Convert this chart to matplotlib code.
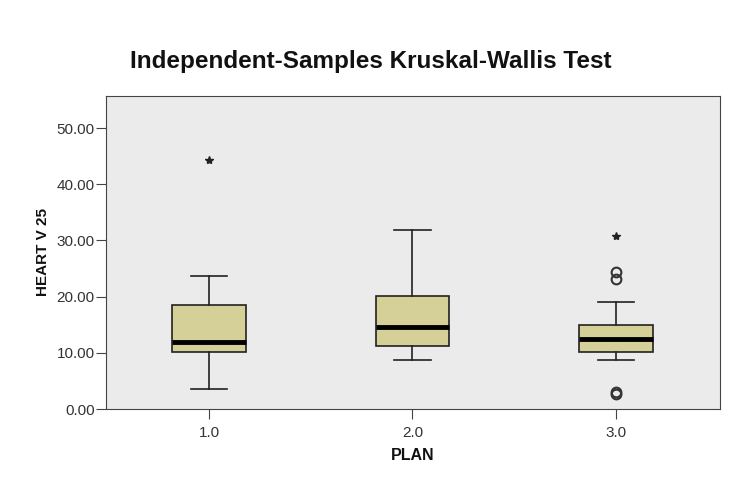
import numpy as np
import matplotlib
matplotlib.use("Agg")
from matplotlib import pyplot as plt

plt.rcParams['font.family'] = ['Liberation Sans', 'DejaVu Sans']

plans = ["1.0", "2.0", "3.0"]
q1 = [10.2, 11.3, 10.2]
medians = [11.9, 14.6, 12.45]
q3 = [18.45, 20.05, 14.9]
whisk_lo = [3.5, 8.65, 8.65]
whisk_hi = [23.6, 31.8, 19.0]
circle_outliers = [[], [], [24.3, 23.1, 3.0, 2.7]]
star_outliers = [[44.3], [], [30.7]]

stats = []
for i in range(len(plans)):
    stats.append({"q1": q1[i], "med": medians[i], "q3": q3[i],
                  "whislo": whisk_lo[i], "whishi": whisk_hi[i],
                  "fliers": circle_outliers[i], "label": plans[i]})

fig = plt.figure(figsize=(7.5, 4.91), dpi=100)
ax = fig.add_axes([0.1413, 0.167, 0.8187, 0.6375])
ax.set_facecolor("#ebebeb")

pos = [1, 2, 3]
ax.bxp(stats, positions=pos, widths=0.36, patch_artist=True,
       boxprops=dict(facecolor="#d5cf98", edgecolor="#222222", linewidth=1.2),
       medianprops=dict(color="black", linewidth=3.5),
       whiskerprops=dict(color="#222222", linewidth=1.2),
       capprops=dict(color="#222222", linewidth=1.2),
       capwidths=0.18,
       flierprops=dict(marker="o", markerfacecolor="none", markeredgecolor="#333333",
                       markersize=7, markeredgewidth=1.5))

# extreme values drawn as stars
for p, vals in zip(pos, star_outliers):
    for v in vals:
        ax.plot(p, v, marker="*", color="#222222", markersize=6, linestyle="none")

ax.set_xlim(0.494, 3.511)
ax.set_ylim(0, 55.7)
ax.set_yticks([0, 10, 20, 30, 40, 50])
ax.set_yticklabels([f"{v:.2f}" for v in [0, 10, 20, 30, 40, 50]])
ax.set_xticks(pos)
ax.set_xticklabels(plans)
ax.tick_params(axis="y", labelsize=11, length=7, pad=1, color="#444444", labelcolor="#333333")
ax.tick_params(axis="x", labelsize=11, length=7, pad=5, color="#444444", labelcolor="#333333")
for s in ax.spines.values():
    s.set_color("#444444")

ax.set_xlabel("PLAN", fontsize=11.5, fontweight="bold", labelpad=6, color="#111111")
ax.set_ylabel("HEART V 25", fontsize=11, fontweight="bold", labelpad=5, color="#111111")
fig.text(0.495, 0.874, "Independent-Samples Kruskal-Wallis Test",
         ha="center", va="center", fontsize=17.5, fontweight="bold", color="#111111")

fig.savefig("out.png", dpi=100)
